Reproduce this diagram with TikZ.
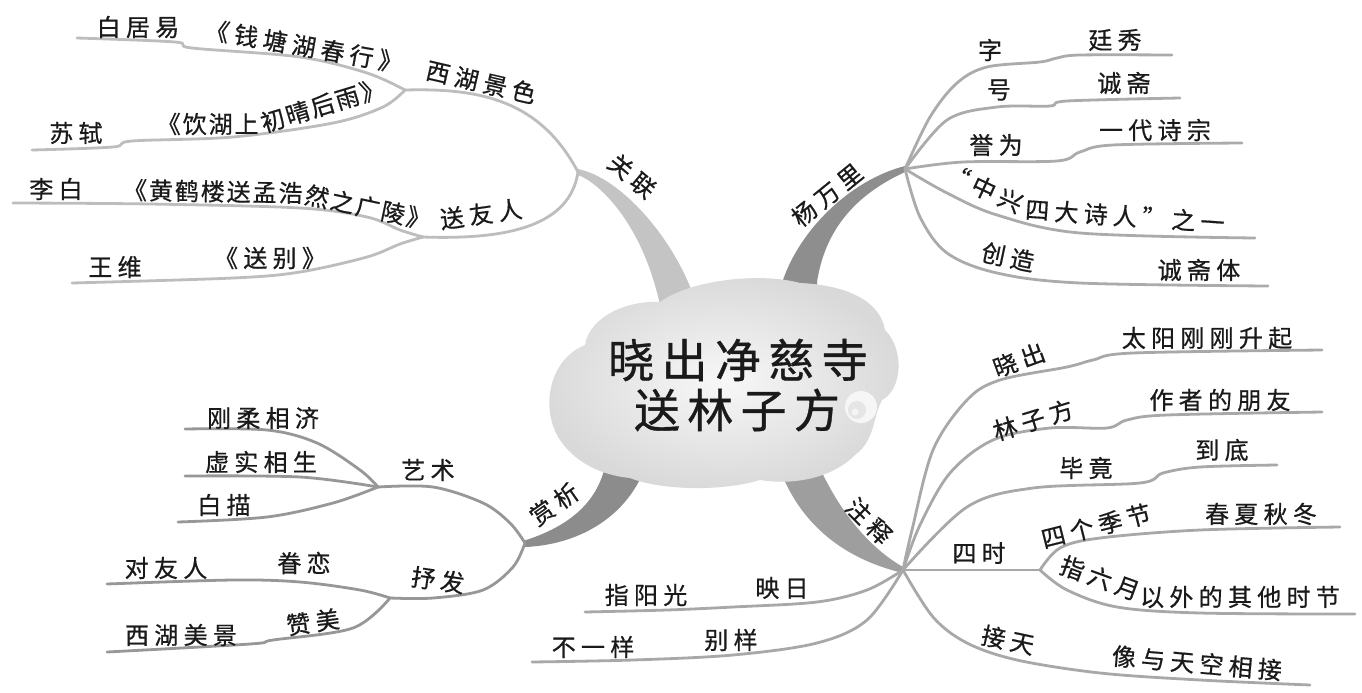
\documentclass[tikz,border=0pt]{standalone}
\usepackage{fontspec}
\newfontfamily\cjk[LetterSpace=22,FakeBold=0.6]{Noto Sans CJK SC}
\newfontfamily\cjkn[LetterSpace=8,FakeBold=0.6]{Noto Sans CJK SC}
\newfontfamily\cjkt[LetterSpace=16,FakeBold=0.8]{Noto Sans CJK SC}
\definecolor{cA}{HTML}{C4C4C4}
\definecolor{lA}{HTML}{BDBDBD}
\definecolor{cB}{HTML}{8E8E8E}
\definecolor{lB}{HTML}{ABABAB}
\definecolor{cC}{HTML}{8C8C8C}
\definecolor{lC}{HTML}{979797}
\definecolor{cD}{HTML}{9E9E9E}
\definecolor{lD}{HTML}{A8A8A8}
\definecolor{txt}{HTML}{1A1A1A}
\begin{document}
\begin{tikzpicture}[x=0.5pt,y=-0.5pt,
  lbl/.style={font=\cjk\fontsize{12pt}{14pt}\selectfont, inner sep=0pt, text=txt},
  lbln/.style={font=\cjkn\fontsize{12pt}{14pt}\selectfont, inner sep=0pt, text=txt},
  ttl/.style={font=\cjkt\fontsize{23pt}{26pt}\selectfont, inner sep=0pt, text=txt},
  ln/.style={line width=1.4pt, line cap=round, line join=round},
  lnA/.style={ln, draw=lA},
  lnB/.style={ln, draw=lB},
  lnC/.style={ln, draw=lC},
  lnD/.style={ln, draw=lD},
  sm/.style={smooth, tension=0.55}
]
\useasboundingbox (0,0) rectangle (1362,692);
\fill[white] (0,0) rectangle (1362,692);

% ---------- branch points ----------
\coordinate (GL) at (578,172);
\coordinate (XH) at (405,90);
\coordinate (SY) at (423,237);
\coordinate (YW) at (905,169);
\coordinate (SX) at (525,543);
\coordinate (YS) at (378,487);
\coordinate (SF) at (390,598);
\coordinate (ZS) at (903,570);
\coordinate (SS) at (1040,570);
% ---------- free ends ----------
\coordinate (eBJY) at (77,38);
\coordinate (eSS) at (32,150);
\coordinate (eLB) at (13,203);
\coordinate (eWW) at (72,283);
\coordinate (eZ) at (1172,55);
\coordinate (eH) at (1180,98);
\coordinate (eYW) at (1242,143);
\coordinate (eZX) at (1255,238);
\coordinate (eCZ) at (1268,286);
\coordinate (eGR) at (185,429);
\coordinate (eXS) at (185,476);
\coordinate (eBM) at (178,522);
\coordinate (eDY) at (107,584);
\coordinate (eXJ) at (107,652);
\coordinate (eXC) at (1322,350);
\coordinate (eLZ) at (1322,412);
\coordinate (eBJ) at (1277,465);
\coordinate (eSJ) at (1340,527);
\coordinate (eZL) at (1355,614);
\coordinate (eJT) at (1310,685);
\coordinate (eYR) at (585,612);
\coordinate (eBY) at (532,662);

% ---------- trunks ----------
\fill[cA] (578,175) .. controls (598,182) and (642,222) .. (660,305)
  -- (695,300) .. controls (675,240) and (622,178) .. (578,169) -- cycle;
\fill[cB] (783,300) -- (783,280) .. controls (800,230) and (850,180) .. (905,166)
  -- (905,172) .. controls (855,195) and (825,230) .. (817,282) -- (817,300) -- cycle;
\fill[cC] (523,541) .. controls (565,528) and (598,505) .. (606,462)
  -- (645,468) .. controls (625,520) and (575,545) .. (525,547) -- cycle;
\fill[cD] (776,458) .. controls (795,520) and (840,558) .. (903,573)
  -- (903,567) .. controls (870,548) and (838,512) .. (814,455) -- cycle;

% ---------- cloud ----------
\shade[inner color=gray!6, outer color=gray!30]
  (560,440) .. controls (540,410) and (548,360) .. (585,345)
  .. controls (590,315) and (630,300) .. (660,302)
  .. controls (690,280) and (760,272) .. (800,283)
  .. controls (845,285) and (880,300) .. (885,330)
  .. controls (905,350) and (902,390) .. (882,400)
  .. controls (872,420) and (875,440) .. (855,455)
  .. controls (830,480) and (790,485) .. (760,480)
  .. controls (720,492) and (660,490) .. (630,478)
  .. controls (600,475) and (575,462) .. (560,440) -- cycle;
\fill[gray!7] (861,407) circle (16);
\fill[gray!20] (857,410) circle (9);
\fill[gray!9] (855,412) circle (3.5);

% ---------- group: guanlian ----------
\draw[lnA] (XH) .. controls (480,88) and (540,100) .. (GL);
\draw[lnA] (SY) .. controls (510,240) and (570,225) .. (GL);
\draw[lnA] plot[sm] coordinates {(eBJY) (175,42) (192,48) (300,57) (367,73) (XH)};
\draw[lnA] plot[sm] coordinates {(eSS) (113,147) (132,141) (233,137) (333,123) (383,107) (XH)};
\draw[lnA] plot[sm] coordinates {(eLB) (150,204) (300,208) (367,217) (400,230) (SY)};
\draw[lnA] plot[sm] coordinates {(eWW) (233,278) (300,272) (367,257) (400,244) (SY)};

% ---------- group: yang wanli ----------
\draw[lnB] plot[sm] coordinates {(YW) (930,117) (957,83) (987,67) (1040,62) (1057,58) (1080,55) (eZ)};
\draw[lnB] plot[sm] coordinates {(YW) (947,120) (997,107) (1050,106) (1067,101) (eH)};
\draw[lnB] plot[sm] coordinates {(YW) (963,162) (1057,161) (1080,152) (1113,145) (eYW)};
\draw[lnB] plot[sm] coordinates {(YW) (947,193) (997,215) (1080,233) (eZX)};
\draw[lnB] plot[sm] coordinates {(YW) (920,217) (947,253) (997,273) (1080,283) (eCZ)};

% ---------- group: shangxi ----------
\draw[lnC] plot[sm] coordinates {(SX) (510,523) (483,503) (433,487) (YS)};
\draw[lnC] plot[sm] coordinates {(SX) (513,567) (483,590) (433,598) (SF)};
\draw[lnC] plot[sm] coordinates {(eGR) (267,430) (317,443) (360,470) (YS)};
\draw[lnC] plot[sm] coordinates {(eXS) (300,477) (YS)};
\draw[lnC] plot[sm] coordinates {(eBM) (267,517) (333,503) (YS)};
\draw[lnC] plot[sm] coordinates {(eDY) (233,580) (300,582) (360,590) (SF)};
\draw[lnC] plot[sm] coordinates {(eXJ) (250,644) (273,640) (353,628) (SF)};

% ---------- group: zhushi ----------
\draw[lnD] plot[sm] coordinates {(ZS) (912,530) (933,450) (967,400) (1000,380) (1067,367) (1093,360) (1133,353) (eXC)};
\draw[lnD] plot[sm] coordinates {(ZS) (920,525) (950,473) (993,440) (1050,428) (1107,428) (1127,420) (1167,415) (eLZ)};
\draw[lnD] plot[sm] coordinates {(ZS) (967,507) (1033,488) (1140,483) (1163,473) (1200,467) (eBJ)};
\draw[lnD] (ZS) -- (SS);
\draw[lnD] plot[sm] coordinates {(SS) (1060,548) (1100,538) (1200,530) (eSJ)};
\draw[lnD] plot[sm] coordinates {(SS) (1067,590) (1117,607) (1200,613) (eZL)};
\draw[lnD] plot[sm] coordinates {(ZS) (933,617) (967,643) (1017,660) (1100,673) (1200,680) (eJT)};
\draw[lnD] plot[sm] coordinates {(ZS) (867,590) (817,602) (733,607) (667,610) (eYR)};
\draw[lnD] plot[sm] coordinates {(ZS) (867,620) (817,643) (733,655) (633,660) (eBY)};

% ---------- title ----------
\node[ttl] (t1) at (738,360) {晓出净慈寺};
\node[ttl] (t2) at (737,410) {送林子方};

% ---------- labels: guanlian ----------
\node[lbl, rotate=-40] (gl) at (632,176) {关联};
\node[lbl, rotate=-13] (xhjs) at (481,82) {西湖景色};
\node[lbl] (bjy) at (138,27) {白居易};
\node[lbl, rotate=-10] (qt) at (304,46) {《钱塘湖春行》};
\node[lbl] (ss) at (76,133) {苏轼};
\node[lbln, anchor=east] (yh1) at (259,124) {《饮湖上};
\node[lbln, rotate=17, anchor=west] (yh2) at (261,124) {初晴后雨》};
\node[lbl, rotate=8] (syr) at (481,214) {送友人};
\node[lbl] (lb) at (56,189) {李白};
\node[lbln, rotate=-1, anchor=east] (hh1) at (303,193) {《黄鹤楼送孟浩};
\node[lbln, rotate=-12, anchor=west] (hh2) at (305,194) {然之广陵》};
\node[lbl] (ww) at (115,267) {王维};
\node[lbl] (sb) at (270,258) {《送别》};

% ---------- labels: yang wanli ----------
\node[lbl, rotate=39] (ywl) at (827,195) {杨万里};
\node[lbl] (zi) at (990,50) {字};
\node[lbl] (tx) at (1115,40) {廷秀};
\node[lbl] (hao) at (999,90) {号};
\node[lbl] (cz) at (1124,83) {诚斋};
\node[lbl] (yw) at (996,145) {誉为};
\node[lbl] (ydsz) at (1155,130) {一代诗宗};
\node[lbl, rotate=-25] (zx1) at (984,188) {“中兴};
\node[lbl, rotate=-4] (zx2) at (1125,216) {四大诗人”之一};
\node[lbl, rotate=-12] (cza) at (1008,257) {创造};
\node[lbl] (czt) at (1199,270) {诚斋体};

% ---------- labels: shangxi ----------
\node[lbl, rotate=35] (sxl) at (554,504) {赏析};
\node[lbl] (ysl) at (428,470) {艺术};
\node[lbl, rotate=-8] (sfl) at (438,580) {抒发};
\node[lbl] (grxj) at (263,418) {刚柔相济};
\node[lbl] (xsxs) at (261,462) {虚实相生};
\node[lbl] (bm) at (224,505) {白描};
\node[lbl] (dyr) at (166,568) {对友人};
\node[lbl] (jl) at (304,563) {眷恋};
\node[lbl] (xhmj) at (181,635) {西湖美景};
\node[lbl, rotate=8] (zm) at (313,622) {赞美};

% ---------- labels: zhushi ----------
\node[lbl, rotate=-45] (zsl) at (869,521) {注释};
\node[lbl, rotate=20] (xc) at (1019,360) {晓出};
\node[lbl] (tygg) at (1207,338) {太阳刚刚升起};
\node[lbl, rotate=17] (lzf) at (1033,420) {林子方};
\node[lbl] (zzdp) at (1220,400) {作者的朋友};
\node[lbl] (bj) at (1086,468) {毕竟};
\node[lbl] (dd) at (1222,450) {到底};
\node[lbl] (sishi) at (979,553) {四时};
\node[lbl, rotate=14] (sgjj) at (1096,526) {四个季节};
\node[lbl] (cxqd) at (1261,514) {春夏秋冬};
\node[lbl, rotate=-20] (zly1) at (1100,578) {指六月};
\node[lbl] (zly2) at (1240,597) {以外的其他时节};
\node[lbl, rotate=-12] (jt) at (1008,640) {接天};
\node[lbl, rotate=-5] (xytk) at (1197,663) {像与天空相接};
\node[lbl] (yr) at (782,588) {映日};
\node[lbl] (zyg) at (646,595) {指阳光};
\node[lbl] (by) at (731,640) {别样};
\node[lbl] (byy) at (593,647) {不一样};
\end{tikzpicture}
\end{document}
